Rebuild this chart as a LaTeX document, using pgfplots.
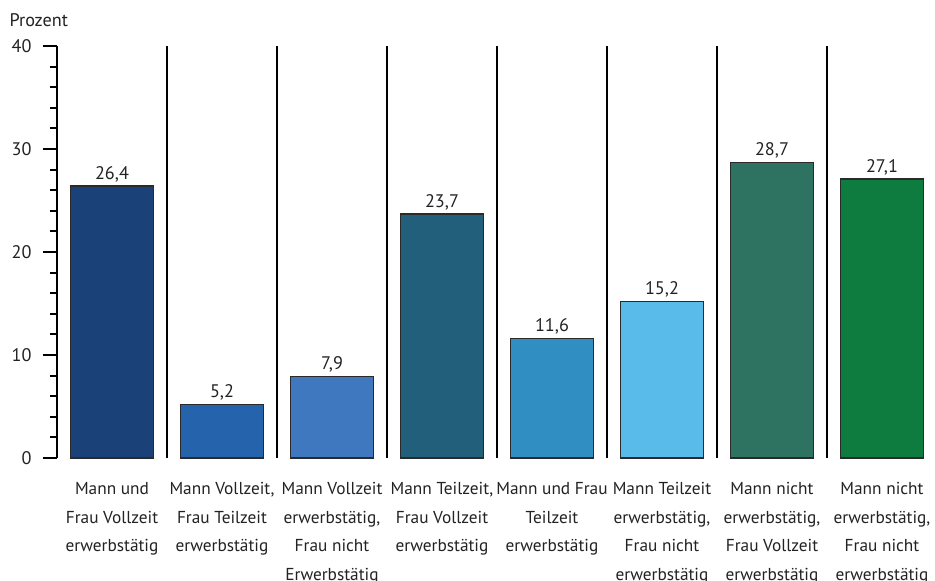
\documentclass[border=0pt]{standalone}
\usepackage{pgfplots}
\pgfplotsset{compat=1.18}
\usepackage{fontspec}
\setmainfont{PT Sans}
\definecolor{c1}{HTML}{1B4179}
\definecolor{c2}{HTML}{2563AD}
\definecolor{c3}{HTML}{3F78BF}
\definecolor{c4}{HTML}{215F7A}
\definecolor{c5}{HTML}{318EC3}
\definecolor{c6}{HTML}{58BBE9}
\definecolor{c7}{HTML}{2E7262}
\definecolor{c8}{HTML}{0E7B3F}
\definecolor{txt}{HTML}{222222}
\definecolor{edge}{HTML}{2A2A2A}
\newcommand{\lblfont}{\fontsize{17.3}{28.5}\selectfont}
\newcommand{\valfont}{\fontsize{18.2}{22}\selectfont}
\begin{document}
\begin{tikzpicture}
\begin{axis}[
  at={(57pt,123pt)}, anchor=south west,
  scale only axis, width=880pt, height=412pt,
  xmin=-0.5, xmax=7.5, ymin=0, ymax=40,
  axis y line*=left, axis x line*=bottom,
  x axis line style={draw=none},
  y axis line style={line width=2.2pt, black},
  xtick={0,...,7}, xtick style={draw=none},
  xticklabels={{Mann und\\Frau Vollzeit\\erwerbstätig},
    {Mann Vollzeit,\\Frau Teilzeit\\erwerbstätig},
    {Mann Vollzeit\\erwerbstätig,\\Frau nicht\\Erwerbstätig},
    {Mann Teilzeit,\\Frau Vollzeit\\erwerbstätig},
    {Mann und Frau\\Teilzeit\\erwerbstätig},
    {Mann Teilzeit\\erwerbstätig,\\Frau nicht\\erwerbstätig},
    {Mann nicht\\erwerbstätig,\\Frau Vollzeit\\erwerbstätig},
    {Mann nicht\\erwerbstätig,\\Frau nicht\\erwerbstätig}},
  xticklabel style={align=center, font=\lblfont, text=txt, anchor=north, yshift=-7pt},
  ytick={0,10,20,30,40}, minor y tick num=4,
  tick align=outside,
  major tick length=14pt, minor tick length=7pt,
  ytick style={line width=2pt, black},
  every minor tick/.append style={line width=2pt, black},
  yticklabel style={font=\valfont, text=txt, xshift=-8pt},
  /pgf/number format/assume math mode=true,
  ybar, bar shift=0pt, bar width=0.755,
  every axis plot/.append style={draw=edge, line width=1.4pt},
  nodes near coords,
  nodes near coords style={font=\valfont, text=txt, anchor=south, yshift=0pt,
    /pgf/number format/.cd, fixed, precision=1, fixed zerofill, use comma, assume math mode=true},
  clip=false,
]
\addplot[fill=c1] coordinates {(0,26.4)};
\addplot[fill=c2] coordinates {(1,5.2)};
\addplot[fill=c3] coordinates {(2,7.9)};
\addplot[fill=c4] coordinates {(3,23.7)};
\addplot[fill=c5] coordinates {(4,11.6)};
\addplot[fill=c6] coordinates {(5,15.2)};
\addplot[fill=c7] coordinates {(6,28.7)};
\addplot[fill=c8] coordinates {(7,27.1)};
\pgfplotsinvokeforeach{0.5,1.5,2.5,3.5,4.5,5.5,6.5}{
  \draw[line width=2.2pt, black] (axis cs:#1,0) -- (axis cs:#1,40);
}
\node[anchor=west, font=\valfont, text=txt] at (rel axis cs:0,1) [xshift=-51pt, yshift=26pt] {Prozent};
\end{axis}
\pgfresetboundingbox
\path[use as bounding box] (0,0) rectangle (935pt,581pt);
\end{tikzpicture}
\end{document}
